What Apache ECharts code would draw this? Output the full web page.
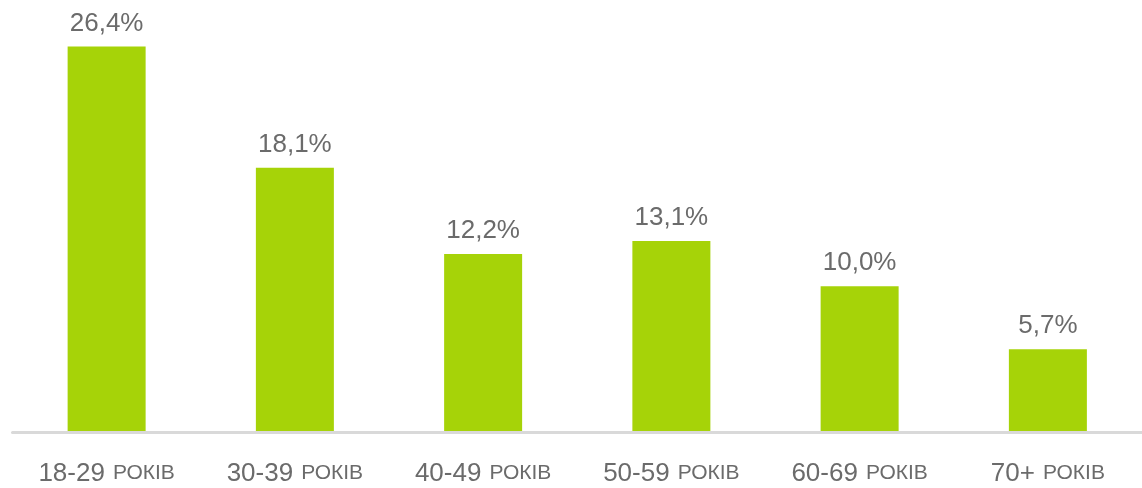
<!DOCTYPE html>
<html>
<head>
<meta charset="utf-8">
<script src="https://cdn.jsdelivr.net/npm/echarts@6/dist/echarts.min.js"></script>
<style>
  html, body { margin: 0; padding: 0; background: #fff; }
  #chart { width: 1142px; height: 488px; }
</style>
</head>
<body>
<div id="chart"></div>
<script>
const ageGroups = ['18-29', '30-39', '40-49', '50-59', '60-69', '70+'];
const ageSuffix = 'РОКІВ';
const shares = [26.4, 18.1, 12.2, 13.1, 10.0, 5.7];

const font = '"Liberation Sans", Arial, sans-serif';

var myChart = echarts.init(document.getElementById('chart'));

myChart.setOption({
  animation: false,
  textStyle: {fontFamily: font},
  grid: {left: 12.5, right: -6, top: 23, bottom: 55.5},
  xAxis: {
    type: 'category',
    data: ageGroups,
    z: 5,
    axisTick: {show: false},
    axisLine: {lineStyle: {color: '#d9d9d9', width: 3}},
    axisLabel: {
      margin: 28,
      formatter: (val) => '{a|' + val + '}{b|' + ageSuffix + '}',
      rich: {
        a: {fontSize: 26, color: '#6b6b6b', fontFamily: font, padding: [0, 8, 0, 0]},
        b: {fontSize: 21, color: '#6b6b6b', fontFamily: font}
      }
    }
  },
  yAxis: {
    type: 'value',
    min: 0,
    max: 28,
    show: false,
    splitLine: {show: false}
  },
  series: [{
    type: 'bar',
    data: shares,
    barWidth: 78,
    itemStyle: {color: '#a6d308'},
    label: {
      show: true,
      position: 'top',
      distance: 10,
      fontSize: 26,
      color: '#6b6b6b',
      fontFamily: font,
      formatter: (p) => p.value.toFixed(1).replace('.', ',') + '%'
    }
  }]
});
</script>
</body>
</html>
